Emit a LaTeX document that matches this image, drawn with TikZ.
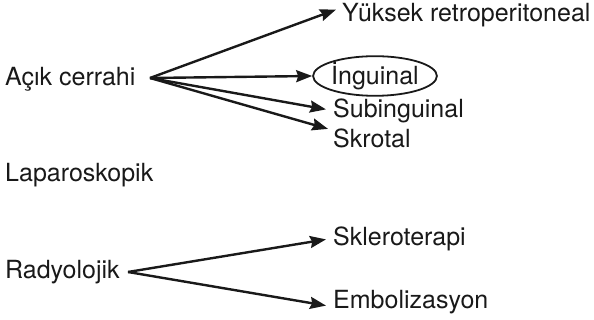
\documentclass[tikz,border=0pt]{standalone}
\usepackage{fontspec}
\setmainfont{TeX Gyre Heros}
\usetikzlibrary{arrows.meta,shapes.geometric}
\begin{document}
\begin{tikzpicture}[x=1pt,y=1pt,
  lbl/.style={inner sep=0pt,anchor=base west,font=\fontsize{25}{30}\selectfont,text=black!90},
  arr/.style={line width=2.4pt,draw=black!90,-{Stealth[length=16pt,width=12pt,inset=2pt]}},
  oval/.style={ellipse,draw=black!90,line width=1.8pt,inner sep=0pt,minimum width=120pt,minimum height=36pt,font=\fontsize{25}{30}\selectfont,text=black!90}]
\useasboundingbox (0,0) rectangle (594,320);
\node[lbl] (acik) at (5,234) {Açık cerrahi};
\coordinate (hub1) at (150,242);
\node[lbl] (yuksek) at (342,298) {Yüksek retroperitoneal};
\node[oval] (ingu) at (375,244) {İnguinal};
\node[lbl] (subin) at (333,202) {Subinguinal};
\node[lbl] (skrot) at (333,172) {Skrotal};
\node[lbl] (lap) at (5,138) {Laparoskopik};
\node[lbl] (rady) at (5,41) {Radyolojik};
\coordinate (hub2) at (128,48);
\node[lbl] (skler) at (333,74) {Skleroterapi};
\node[lbl] (embol) at (333,11) {Embolizasyon};
\draw[arr] (hub1) -- ([shift={(-6pt,6pt)}]yuksek.west);
\draw[arr] (hub1) -- (ingu.west);
\draw[arr] (hub1) -- ([shift={(-7pt,2pt)}]subin.west);
\draw[arr] (hub1) -- ([shift={(-5pt,10pt)}]skrot.west);
\draw[arr] (hub2) -- ([shift={(-7pt,0pt)}]skler.west);
\draw[arr] (hub2) -- ([shift={(-7pt,-3pt)}]embol.west);
\end{tikzpicture}
\end{document}
